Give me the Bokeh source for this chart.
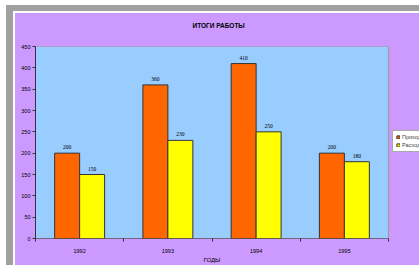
from bokeh.plotting import figure
from bokeh.models import Range1d, ColumnDataSource, Legend, LegendItem, FixedTicker, Title
from bokeh.embed import file_html
from bokeh.resources import INLINE

years = ["1992", "1993", "1994", "1995"]
income = [200, 360, 410, 200]
expense = [150, 230, 250, 180]
y_ticks = [0, 50, 100, 150, 200, 250, 300, 350, 400, 450]
series_names = ["Приход", "Расход"]
chart_title = "ИТОГИ РАБОТЫ"
x_title = "ГОДЫ"

n = len(years)
w = 0.283
centers = [i + 0.5 for i in range(n)]
src = ColumnDataSource(dict(
    x_inc=[c - w / 2 for c in centers], x_exp=[c + w / 2 for c in centers],
    income=income, expense=expense,
    income_lbl=[str(v) for v in income], expense_lbl=[str(v) for v in expense]))

FONT = "Liberation Sans"
PURPLE = "#CC99FF"
W, H = 419, 265
ML, MR, MT, MB = 35, 0, 46, 27
AREA_W = 353  # pixel width of the plotting area inside the frame

p = figure(width=W, height=H, output_backend="svg", toolbar_location=None,
           x_range=Range1d(0, n * (W - ML - MR) / AREA_W), y_range=Range1d(0, y_ticks[-1]),
           min_border_left=ML, min_border_right=MR, min_border_top=MT, min_border_bottom=MB,
           background_fill_color=PURPLE, border_fill_color=PURPLE, border_fill_alpha=0)
# window frame (grey/white strips) painted behind the transparent canvas border
p.styles = {
    "background": "linear-gradient(#CC99FF,#CC99FF) 15px 13px / 100% 100% no-repeat, "
                  "linear-gradient(#ffffff,#ffffff) 13px 11px / 100% 100% no-repeat, "
                  "linear-gradient(#a0a0a0,#a0a0a0) 6px 5px / 100% 100% no-repeat, #ffffff",
}
p.outline_line_color = None
p.grid.visible = False

t = Title(text=chart_title, align="left", offset=157, standoff=36,
          text_font=FONT, text_font_size="6.5px", text_font_style="bold", text_color="#000000")
p.add_layout(t, "above")

# plot area panel
p.quad(left=[0], right=[n], bottom=[0], top=[y_ticks[-1]],
       fill_color="#99CCFF", line_color="#9A9A9A", line_width=1)
p.segment(x0=[0], x1=[n], y0=[0], y1=[0], line_color="#333333", line_width=1)

r1 = p.vbar(x="x_inc", top="income", width=w, source=src,
            fill_color="#FF6600", line_color="#333333", line_width=1)
r2 = p.vbar(x="x_exp", top="expense", width=w, source=src,
            fill_color="#FFFF00", line_color="#333333", line_width=1)

for xcol, col, lbl in (("x_inc", "income", "income_lbl"), ("x_exp", "expense", "expense_lbl")):
    p.text(x=xcol, y=col, text=lbl, source=src,
           text_font=FONT, text_font_size="5.5px", text_align="center",
           text_baseline="bottom", y_offset=-4, text_color="#000000")

p.yaxis.ticker = FixedTicker(ticks=y_ticks)
p.yaxis.minor_tick_line_color = None
p.yaxis.major_tick_out = 3
p.yaxis.major_tick_in = 0
p.yaxis.major_label_standoff = 2
p.yaxis.axis_line_color = "#333333"
p.yaxis.major_tick_line_color = "#333333"

p.xaxis.ticker = FixedTicker(ticks=centers, minor_ticks=list(range(n + 1)))
p.xaxis.major_label_overrides = {c: y for c, y in zip(centers, years)}
p.xaxis.axis_line_color = None
p.xaxis.major_tick_line_color = None
p.xaxis.minor_tick_line_color = "#333333"
p.xaxis.minor_tick_out = 3
p.xaxis.minor_tick_in = 0
p.xaxis.major_label_standoff = 4
for ax in (p.xaxis, p.yaxis):
    ax.major_label_text_font = FONT
    ax.major_label_text_font_size = "5.5px"
    ax.major_label_text_color = "#000000"

xt = Title(text=x_title, align="left", offset=168, standoff=2, vertical_align="top",
           text_font=FONT, text_font_size="6px", text_font_style="normal", text_color="#000000")
p.add_layout(xt, "below")

legend = Legend(items=[LegendItem(label=series_names[0], renderers=[r1]),
                       LegendItem(label=series_names[1], renderers=[r2])],
                location=(357, 86), label_text_font=FONT, label_text_font_size="5.5px",
                glyph_width=4, glyph_height=4, label_standoff=2, spacing=2, padding=3,
                label_height=5, border_line_color="#555555", background_fill_color="white",
                background_fill_alpha=1, margin=0)
p.add_layout(legend)

open("out.html", "w").write(file_html(p, INLINE))
